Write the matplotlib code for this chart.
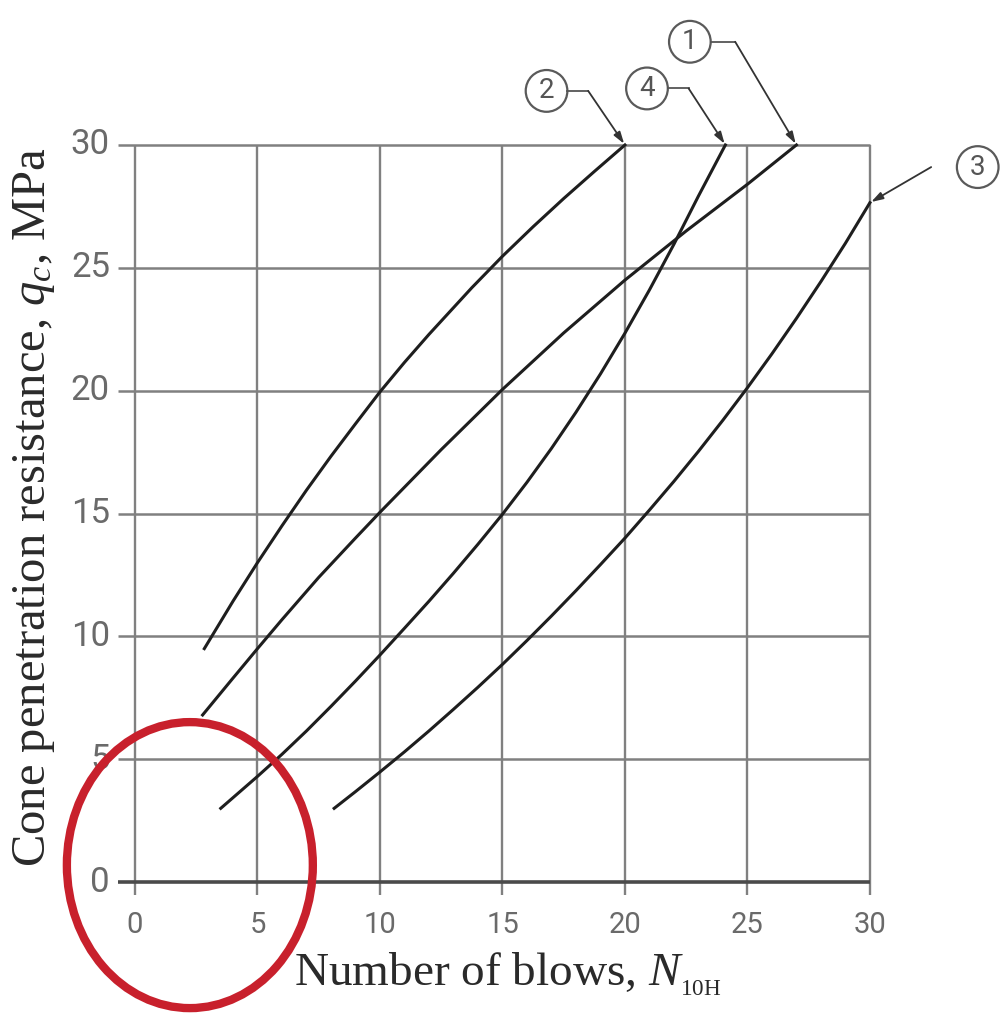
import matplotlib.pyplot as plt
from matplotlib.patches import Ellipse, Circle

plt.rcParams['mathtext.fontset'] = 'custom'
plt.rcParams['mathtext.rm'] = 'Liberation Serif'
plt.rcParams['mathtext.it'] = 'Liberation Serif:italic'

# correlation curves: number of blows N10H against cone resistance qc (MPa)
n_1 = [2.76, 4.0, 5.0, 6.0, 7.5, 9.0, 10.0, 12.5, 15.0, 17.5, 20.0, 22.5, 25.0, 27.0]
q_1 = [6.8, 8.3, 9.5, 10.68, 12.4, 14.0, 15.05, 17.6, 20.05, 22.35, 24.5, 26.5, 28.4, 30.0]

n_2 = [2.83, 4.0, 5.0, 6.0, 7.0, 8.0, 9.0, 10.0, 11.0, 12.0, 13.75, 15.0, 16.25, 17.5, 18.75, 20.0]
q_2 = [9.5, 11.43, 13.0, 14.5, 15.95, 17.33, 18.65, 19.95, 21.15, 22.29, 24.19, 25.47, 26.67, 27.82, 28.92, 30.0]

n_3 = [8.13, 9.0, 10.0, 11.0, 12.0, 13.0, 14.0, 15.0, 16.0, 17.0, 18.0, 19.0, 20.0,
       21.0, 22.0, 23.0, 24.0, 25.0, 26.0, 27.0, 28.0, 29.0, 30.0]
q_3 = [3.0, 3.68, 4.48, 5.3, 6.15, 7.03, 7.93, 8.86, 9.83, 10.83, 11.86, 12.92, 14.0,
       15.14, 16.31, 17.53, 18.8, 20.12, 21.5, 22.94, 24.44, 26.0, 27.65]

n_4 = [3.5, 5.0, 6.0, 7.0, 8.0, 9.0, 10.0, 11.0, 12.0, 13.0, 14.0, 15.0, 16.0, 17.0,
       18.0, 19.0, 20.0, 21.0, 22.0, 23.0, 24.1]
q_4 = [3.0, 4.3, 5.2, 6.15, 7.15, 8.18, 9.24, 10.33, 11.43, 12.57, 13.75, 14.97, 16.27,
       17.65, 19.12, 20.68, 22.34, 24.1, 25.96, 27.92, 30.0]

curves = {'1': (n_1, q_1), '2': (n_2, q_2), '3': (n_3, q_3), '4': (n_4, q_4)}

ticks = [0, 5, 10, 15, 20, 25, 30]
tick_labels = ['0', '5', '10', '15', '20', '25', '30']

# numbered markers: circle centre, bend of the leader line
markers = {
    '2': ((16.8, 32.2), (18.5, 32.2)),
    '4': ((20.9, 32.3), (22.6, 32.3)),
    '1': ((22.65, 34.2), (24.5, 34.2)),
    '3': ((34.4, 29.1), (32.5, 29.1)),
}

fig = plt.figure(figsize=(10, 10.14), dpi=100)
ax = fig.add_axes([0, 0, 1, 1])
ax.set_xlim(-5.51, 35.31)
ax.set_ylim(-5.37, 35.9)
ax.axis('off')

# grid
for y in ticks:
    if y == 0:
        ax.plot([-0.7, 30], [y, y], color='#4a4a4a', lw=2.6, solid_capstyle='butt', zorder=2)
    else:
        ax.plot([-0.7, 30], [y, y], color='#808080', lw=1.8, solid_capstyle='butt', zorder=1)
for x in ticks:
    ax.plot([x, x], [-0.53, 30], color='#808080', lw=1.7, solid_capstyle='butt', zorder=1)

tick_font = ['Roboto', 'DejaVu Sans']
for y, lab in zip(ticks, tick_labels):
    ax.text(-1.02, y, lab, ha='right', va='center', fontsize=25,
            color='#6a6a6a', family=tick_font)
for x, lab in zip(ticks, tick_labels):
    ax.text(x, -1.75, lab, ha='center', va='center', fontsize=21,
            color='#6a6a6a', family=tick_font)

for key, (n, q) in curves.items():
    ax.plot(n, q, color='#1e1e1e', lw=2.2, zorder=3, solid_joinstyle='round')

# numbered leaders
for key, (centre, bend) in markers.items():
    n, q = curves[key]
    ax.add_patch(Circle(centre, 0.85, fill=False, ec='#5a5a5a', lw=1.6, zorder=4))
    ax.text(centre[0], centre[1], key, ha='center', va='center', fontsize=20,
            color='#555555', family=tick_font, zorder=5)
    side = 1 if bend[0] > centre[0] else -1
    if key != '3':
        ax.plot([centre[0] + side * 0.85, bend[0]], [centre[1], bend[1]],
                color='#555555', lw=1.3, zorder=4)
    ax.annotate('', xy=(n[-1], q[-1]), xytext=bend,
                arrowprops=dict(arrowstyle='-|>,head_length=0.7,head_width=0.22',
                                color='#333333', lw=1.3, shrinkA=0, shrinkB=1),
                zorder=4)

ax.text(-4.12, 15.26, r'Cone penetration resistance, $q_c$, MPa', rotation=90,
        ha='center', va='center', fontsize=35, color='#2a2a2a', family='Liberation Serif')
ax.text(15.2, -4.19, r'Number of blows, $N_{_{\mathrm{10H}}}$', ha='center', va='baseline',
        fontsize=34, color='#2a2a2a', family='Liberation Serif')

# red highlight around the origin
ax.add_patch(Ellipse((2.24, 0.69), 10.04, 11.64, fill=False, ec='#c8202c', lw=6, zorder=10))

fig.savefig('out.png', dpi=100, facecolor='white')
